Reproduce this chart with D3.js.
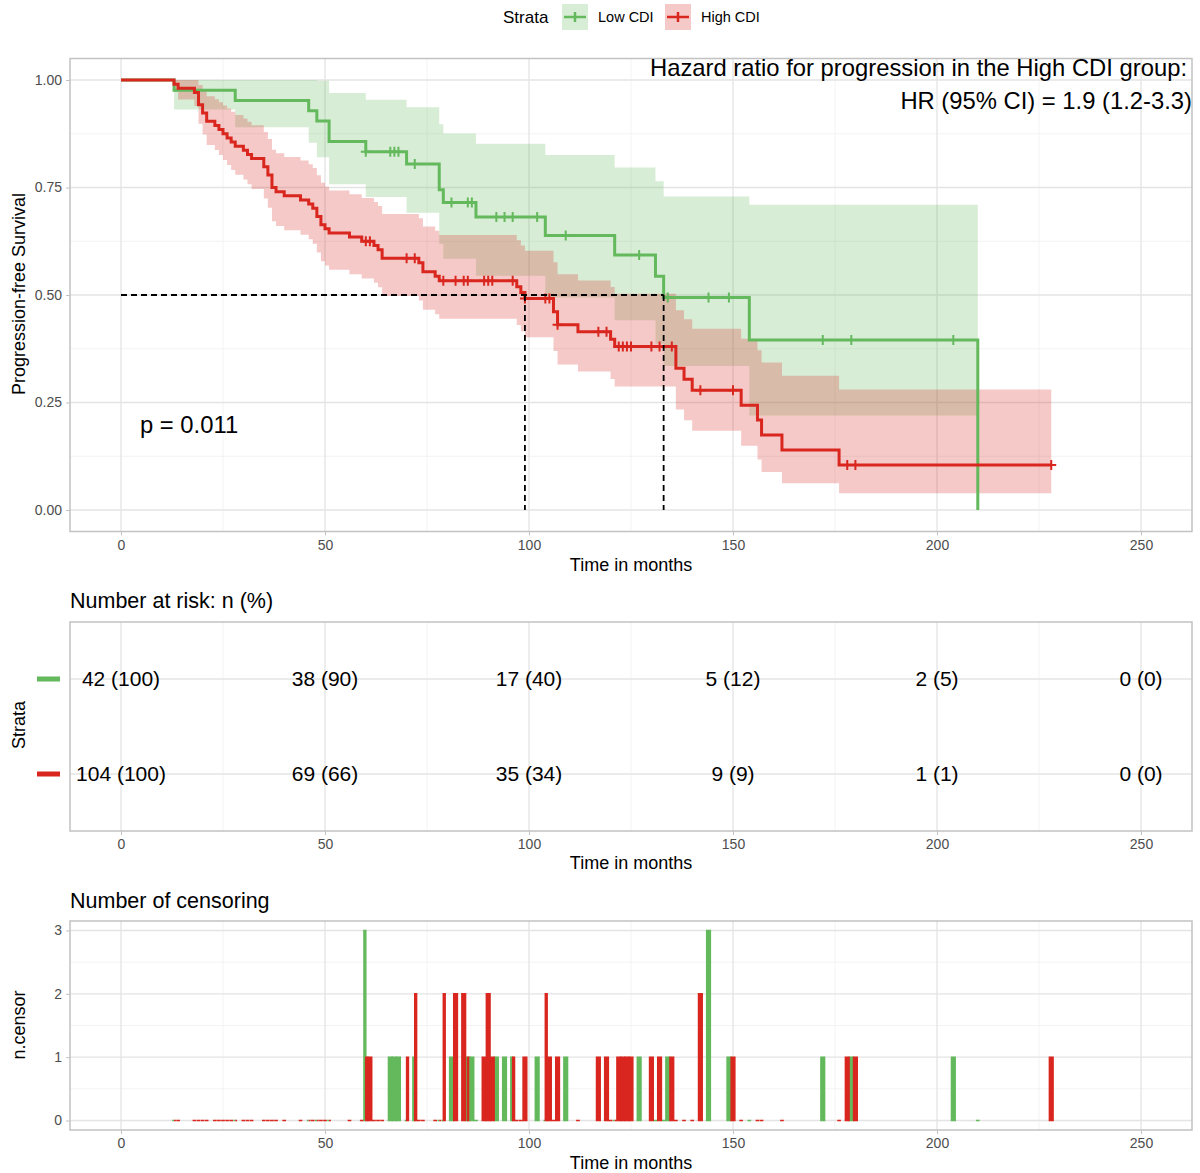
<!DOCTYPE html>
<html>
<head>
<meta charset="utf-8">
<script src="https://cdn.jsdelivr.net/npm/d3@7"></script>
<style>
  body { margin: 0; background: #fff; }
  svg { display: block; }
  text { font-family: "Liberation Sans", Arial, Helvetica, sans-serif; }
</style>
</head>
<body>
<svg id="chart" width="1200" height="1173"></svg>
<script>
// ---- Strata ----
const strataNames = ["Low CDI", "High CDI"];

// ---- Low CDI: distinct times (months), events and censored at each time ----
const lowTime     = [13, 28, 46, 48, 51, 60, 66, 67, 68, 70, 72, 78, 79, 81, 85, 86, 87, 92, 94, 96, 102, 104, 109, 121, 127, 131, 133, 134, 144, 149, 154, 172, 179, 204, 210];
const lowEvents   = [ 1,  1,  1,  1,  2,  1,  0,  0,  0,  1,  0,  2,  1,  0,  0,  0,  1,  0,  0,  0,   0,   1,   0,   1,   0,   1,   1,   0,   0,   0,   1,   0,   0,   0,   1];
const lowCensored = [ 0,  0,  0,  0,  0,  3,  1,  1,  1,  0,  1,  0,  0,  1,  1,  1,  0,  1,  1,  1,   1,   0,   1,   0,   1,   0,   0,   1,   3,   1,   0,   1,   1,   1,   0];

// ---- High CDI ----
const highTime     = [13, 14, 18, 19, 20, 21, 23, 24, 25, 26, 27, 28, 30, 31, 32, 35, 36, 37, 38, 40, 44, 46, 47, 48, 49, 50, 51, 56, 59, 60, 61, 62, 63, 64, 70, 72, 73, 74, 77, 78, 79, 82, 84, 85, 89, 90, 91, 96, 97, 98, 99, 104, 105, 106, 107, 112, 117, 119, 120, 121, 122, 123, 124, 125, 130, 132, 135, 136, 138, 140, 142, 150, 152, 156, 157, 162, 176, 178, 180, 228];
const highEvents   = [ 1,  1,  1,  3,  2,  2,  1,  1,  1,  1,  1,  1,  1,  1,  1,  2,  2,  3,  1,  1,  1,  1,  1,  2,  2,  1,  1,  1,  1,  0,  0,  1,  1,  2,  0,  0,  1,  2,  1,  1,  0,  0,  0,  0,  0,  0,  0,  0,  1,  1,  1,   0,   0,   2,   2,   1,   0,   0,   1,   1,   0,   0,   0,   0,   0,   0,   0,   2,   1,   1,   0,   0,   1,   1,   1,   1,   1,   0,   0,   0];
const highCensored = [ 0,  0,  0,  0,  0,  0,  0,  0,  0,  0,  0,  0,  0,  0,  0,  0,  0,  0,  0,  0,  0,  0,  0,  0,  0,  0,  0,  0,  0,  1,  1,  0,  0,  0,  1,  2,  0,  0,  0,  0,  2,  2,  2,  1,  1,  2,  1,  1,  0,  0,  1,   2,   1,   0,   1,   0,   1,   1,   0,   0,   1,   1,   1,   1,   1,   1,   1,   0,   0,   0,   2,   1,   0,   0,   0,   0,   0,   1,   1,   1];

// ---- Number at risk table ----
const riskTimes   = [0, 50, 100, 150, 200, 250];
const riskLowN    = [42, 38, 17, 5, 2, 0];
const riskLowPct  = [100, 90, 40, 12, 5, 0];
const riskHighN   = [104, 69, 35, 9, 1, 0];
const riskHighPct = [100, 66, 34, 9, 1, 0];

// ---- Axis ticks ----
const timeTicks      = [0, 50, 100, 150, 200, 250];
const timeMinorTicks = [25, 75, 125, 175, 225];
const survTicks      = [0, 0.25, 0.5, 0.75, 1];
const survMinorTicks = [0.125, 0.375, 0.625, 0.875];
const censorTicks    = [0, 1, 2, 3];
const censorMinor    = [0.5, 1.5, 2.5];

// ---- Annotations ----
const hrLines = ["Hazard ratio for progression in the High CDI group:", "HR (95% CI) = 1.9 (1.2-3.3)"];
const pValueText = "p = 0.011";

// ---- Styling ----
const lineColors   = ["#63b95c", "#d9261f"];
const ribbonAlpha  = 0.25;
const gridMajor    = "#e4e4e4";
const gridMinor    = "#f0f0f0";
const borderColor  = "#c2c2c2";
const tickTextCol  = "#4d4d4d";

const svg = d3.select("#chart");

// Kaplan–Meier estimate with log-transformed 95% CI (Greenwood variance)
function kaplanMeier(times, events, censored) {
  let n = d3.sum(events) + d3.sum(censored);
  let s = 1, v = 0;
  const pts = [{ t: 0, s: 1, lo: 1, hi: 1 }];
  const marks = [];
  times.forEach((t, i) => {
    const d = events[i], c = censored[i];
    if (d > 0) {
      s *= (n - d) / n;
      v = (n > d) ? v + d / (n * (n - d)) : NaN;
    }
    const se = Math.sqrt(v);
    const lo = s > 0 ? s * Math.exp(-1.96 * se) : NaN;
    const hi = s > 0 ? Math.min(1, s * Math.exp(1.96 * se)) : NaN;
    pts.push({ t, s, lo, hi });
    if (c > 0) marks.push({ t, s });
    n -= d + c;
  });
  const median = (pts.find(p => p.s <= 0.5) || {}).t;
  return { pts, marks, median };
}

const fits = [
  kaplanMeier(lowTime, lowEvents, lowCensored),
  kaplanMeier(highTime, highEvents, highCensored)
];

// ---- Scales ----
const L = 70, R = 1192;
const x = d3.scaleLinear().domain([-12.5, 262.5]).range([L, R]);
const ySurv = d3.scaleLinear().domain([-0.05, 1.05]).range([531.5, 58.5]);
const yRow = d3.scaleLinear().domain([0.4, 2.6]).range([622, 831]);
const yCens = d3.scaleLinear().domain([-0.15, 3.15]).range([1130, 921]);

function panel(top, bottom, hMajor, hMinor, yScale) {
  const g = svg.append("g");
  g.selectAll(".vmin").data(timeMinorTicks).join("line")
    .attr("x1", d => x(d)).attr("x2", d => x(d)).attr("y1", top).attr("y2", bottom)
    .attr("stroke", gridMinor).attr("stroke-width", 0.8);
  g.selectAll(".hmin").data(hMinor).join("line")
    .attr("x1", L).attr("x2", R).attr("y1", d => yScale(d)).attr("y2", d => yScale(d))
    .attr("stroke", gridMinor).attr("stroke-width", 0.8);
  g.selectAll(".vmaj").data(timeTicks).join("line")
    .attr("x1", d => x(d)).attr("x2", d => x(d)).attr("y1", top).attr("y2", bottom)
    .attr("stroke", gridMajor).attr("stroke-width", 1.3);
  g.selectAll(".hmaj").data(hMajor).join("line")
    .attr("x1", L).attr("x2", R).attr("y1", d => yScale(d)).attr("y2", d => yScale(d))
    .attr("stroke", gridMajor).attr("stroke-width", 1.3);
  return g;
}

function border(top, bottom) {
  svg.append("rect").attr("x", L).attr("y", top).attr("width", R - L).attr("height", bottom - top)
    .attr("fill", "none").attr("stroke", borderColor).attr("stroke-width", 1.5);
}

function xAxis(bottom, labelY, titleY) {
  const g = svg.append("g").attr("transform", `translate(0,${bottom})`);
  const ax = d3.axisBottom(x).tickValues(timeTicks).tickSize(4).tickPadding(5).tickFormat(d3.format("d"));
  g.call(ax);
  g.select(".domain").remove();
  g.selectAll(".tick line").attr("stroke", borderColor);
  g.selectAll(".tick text").attr("fill", tickTextCol).attr("font-size", 14)
    .attr("y", labelY - bottom).attr("dy", "0.35em");
  svg.append("text").attr("x", (L + R) / 2).attr("y", titleY).attr("dy", "0.35em")
    .attr("text-anchor", "middle").attr("font-size", 18).text("Time in months");
}

function yAxis(scale, ticks, fmt) {
  const g = svg.append("g").attr("transform", `translate(${L},0)`);
  g.call(d3.axisLeft(scale).tickValues(ticks).tickSize(4).tickPadding(5).tickFormat(fmt));
  g.select(".domain").remove();
  g.selectAll(".tick line").attr("stroke", borderColor);
  g.selectAll(".tick text").attr("fill", tickTextCol).attr("font-size", 14).attr("x", -8);
}

function yTitle(text, cy) {
  svg.append("text").attr("transform", `translate(19,${cy}) rotate(-90)`).attr("dy", "0.35em")
    .attr("text-anchor", "middle").attr("font-size", 18).text(text);
}

// =================== Survival curves ===================
panel(58.5, 531.5, survTicks, survMinorTicks, ySurv);

const ribbonArea = d3.area().curve(d3.curveStepAfter)
  .x(d => x(d.t)).y0(d => ySurv(d.lo)).y1(d => ySurv(d.hi));
const survLine = d3.line().curve(d3.curveStepAfter)
  .x(d => x(d.t)).y(d => ySurv(d.s));

fits.forEach((f, i) => {
  const rib = [];
  f.pts.forEach((p, k) => {
    if (p.s > 0) rib.push(p);
    else rib.push({ t: p.t, lo: f.pts[k - 1].lo, hi: f.pts[k - 1].hi });
  });
  // stop the band at the first zero estimate
  const cut = rib.findIndex((p, k) => f.pts[k].s === 0);
  const band = cut >= 0 ? rib.slice(0, cut + 1) : rib;
  svg.append("path").datum(band).attr("d", ribbonArea)
    .attr("fill", lineColors[i]).attr("fill-opacity", ribbonAlpha);
});

fits.forEach((f, i) => {
  svg.append("path").datum(f.pts).attr("d", survLine)
    .attr("fill", "none").attr("stroke", lineColors[i]).attr("stroke-width", 3)
    .attr("stroke-linejoin", "miter");
  svg.append("g").selectAll("path").data(f.marks).join("path")
    .attr("d", d => `M${x(d.t) - 5},${ySurv(d.s)}H${x(d.t) + 5}M${x(d.t)},${ySurv(d.s) - 5}V${ySurv(d.s) + 5}`)
    .attr("stroke", lineColors[i]).attr("stroke-width", 2).attr("fill", "none");
});

// Median survival guides
const medians = fits.map(f => f.median);
const medG = svg.append("g").attr("stroke", "#000").attr("stroke-width", 1.8)
  .attr("stroke-dasharray", "6,4").attr("fill", "none");
medG.append("line").attr("x1", x(0)).attr("x2", x(d3.max(medians)))
  .attr("y1", ySurv(0.5)).attr("y2", ySurv(0.5));
medians.forEach(m => {
  medG.append("line").attr("x1", x(m)).attr("x2", x(m)).attr("y1", ySurv(0.5)).attr("y2", ySurv(0));
});

border(58.5, 531.5);
xAxis(531.5, 545, 565);
yAxis(ySurv, survTicks, d3.format(".2f"));
yTitle("Progression-free Survival", 294);

svg.append("text").attr("x", 1187).attr("y", 68).attr("dy", "0.35em").attr("text-anchor", "end")
  .attr("font-size", 23.8).text(hrLines[0]);
svg.append("text").attr("x", 1192).attr("y", 101).attr("dy", "0.35em").attr("text-anchor", "end")
  .attr("font-size", 23.8).text(hrLines[1]);
svg.append("text").attr("x", 140).attr("y", 425).attr("dy", "0.35em")
  .attr("font-size", 23.8).text(pValueText);

// Legend
const legend = svg.append("g");
legend.append("text").attr("x", 503).attr("y", 17).attr("dy", "0.35em").attr("font-size", 17).text("Strata");
const keyX = [562, 665], labX = [598, 701];
strataNames.forEach((name, i) => {
  const k = legend.append("g").attr("transform", `translate(${keyX[i]},4)`);
  k.append("rect").attr("width", 26).attr("height", 26)
    .attr("fill", lineColors[i]).attr("fill-opacity", ribbonAlpha);
  k.append("path").attr("d", "M2,13H24M13,8V18").attr("stroke", lineColors[i]).attr("stroke-width", 2.5);
  legend.append("text").attr("x", labX[i]).attr("y", 17).attr("dy", "0.35em")
    .attr("font-size", 14.5).text(name);
});

// =================== Number at risk ===================
svg.append("text").attr("x", 70).attr("y", 600).attr("dy", "0.35em").attr("font-size", 21.5)
  .text("Number at risk: n (%)");
panel(622, 831, [1, 2], [], yRow);
const riskRows = [
  { n: riskLowN, pct: riskLowPct },
  { n: riskHighN, pct: riskHighPct }
];
riskRows.forEach((r, i) => {
  svg.append("g").selectAll("text").data(riskTimes).join("text")
    .attr("x", d => x(d)).attr("y", yRow(i + 1)).attr("dy", "0.35em")
    .attr("text-anchor", "middle").attr("font-size", 21)
    .text((d, k) => `${r.n[k]} (${r.pct[k]})`);
  svg.append("rect").attr("x", 37).attr("y", yRow(i + 1) - 2.5).attr("width", 23).attr("height", 5)
    .attr("fill", lineColors[i]);
});
border(622, 831);
xAxis(831, 844, 863);
yTitle("Strata", 725);

// =================== Number of censoring ===================
svg.append("text").attr("x", 70).attr("y", 900).attr("dy", "0.35em").attr("font-size", 21.5)
  .text("Number of censoring");
panel(921, 1130, censorTicks, censorMinor, yCens);

const censorRows = [];
[[lowTime, lowCensored], [highTime, highCensored]].forEach(([ts, cs], g) => {
  ts.forEach((t, i) => censorRows.push({ t, n: cs[i], g }));
});
const byTime = d3.group(censorRows, d => d.t);
const barW = 0.9;
const bars = [];
byTime.forEach((rows, t) => {
  rows.sort((a, b) => a.g - b.g);
  const w = barW / rows.length;
  rows.forEach((r, k) => bars.push({ ...r, x0: t - barW / 2 + k * w, x1: t - barW / 2 + (k + 1) * w }));
});
svg.append("g").selectAll("path").data(bars).join("path")
  .attr("d", d => `M${x(d.x0)},${yCens(0)}V${yCens(d.n)}H${x(d.x1)}V${yCens(0)}Z`)
  .attr("fill", d => lineColors[d.g]).attr("stroke", d => lineColors[d.g]).attr("stroke-width", 1.5);

border(921, 1130);
xAxis(1130, 1143, 1163);
yAxis(yCens, censorTicks, d3.format("d"));
yTitle("n.censor", 1025);
</script>
</body>
</html>
